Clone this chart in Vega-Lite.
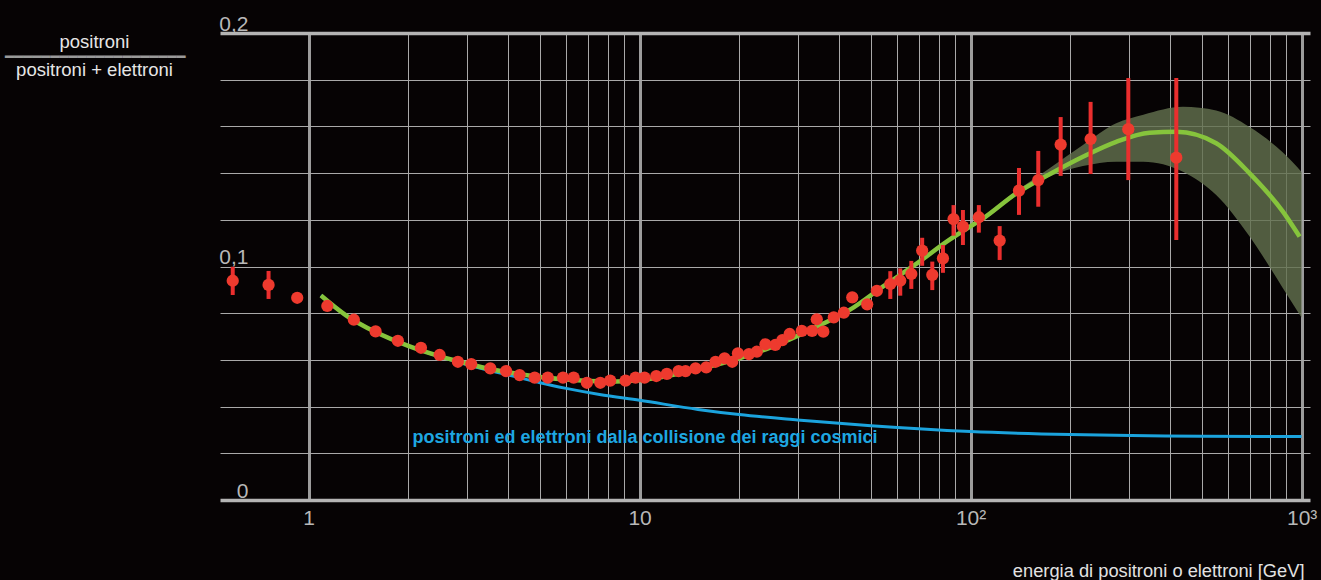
{
  "$schema": "https://vega.github.io/schema/vega-lite/v6.json",
  "width": 1090,
  "height": 467,
  "autosize": "none",
  "padding": {"left": 220, "top": 33, "right": 11, "bottom": 80},
  "background": "#060304",
  "config": {"view": {"stroke": null}, "font": "Liberation Sans"},
  "title": {"text": "━━━━━━━━━━━━━━━━━━━━", "font": "DejaVu Sans Mono", "fontSize": 15, "color": "#9a9a9a", "anchor": "start", "frame": "group", "dx": -215, "dy": 59, "baseline": "middle", "offset": 0, "fontWeight": "normal"},
  "datasets": {
    "points": [
      {"E": 0.590, "v": 0.0939, "lo": 0.0878, "hi": 0.0999},
      {"E": 0.757, "v": 0.0921, "lo": 0.0861, "hi": 0.0981},
      {"E": 0.924, "v": 0.0866},
      {"E": 1.139, "v": 0.0831},
      {"E": 1.37, "v": 0.0772},
      {"E": 1.594, "v": 0.0722},
      {"E": 1.861, "v": 0.0682},
      {"E": 2.185, "v": 0.0652},
      {"E": 2.488, "v": 0.0621},
      {"E": 2.825, "v": 0.0592},
      {"E": 3.10, "v": 0.0582},
      {"E": 3.54, "v": 0.0564},
      {"E": 3.95, "v": 0.0552},
      {"E": 4.34, "v": 0.0535},
      {"E": 4.82, "v": 0.0524},
      {"E": 5.28, "v": 0.0524},
      {"E": 5.87, "v": 0.0524},
      {"E": 6.32, "v": 0.0524},
      {"E": 6.93, "v": 0.0502},
      {"E": 7.61, "v": 0.0502},
      {"E": 8.15, "v": 0.0511},
      {"E": 9.07, "v": 0.0511},
      {"E": 9.72, "v": 0.0524},
      {"E": 10.35, "v": 0.0524},
      {"E": 11.23, "v": 0.0531},
      {"E": 12.09, "v": 0.0540},
      {"E": 13.12, "v": 0.0552},
      {"E": 13.77, "v": 0.0552},
      {"E": 14.76, "v": 0.0564},
      {"E": 15.90, "v": 0.0568},
      {"E": 16.96, "v": 0.0592},
      {"E": 18.06, "v": 0.0607},
      {"E": 19.05, "v": 0.0592},
      {"E": 19.82, "v": 0.0628},
      {"E": 21.4, "v": 0.0625},
      {"E": 22.6, "v": 0.0635},
      {"E": 24.0, "v": 0.0667},
      {"E": 25.7, "v": 0.0664},
      {"E": 27.0, "v": 0.0685},
      {"E": 28.4, "v": 0.0711},
      {"E": 30.9, "v": 0.0724},
      {"E": 33.2, "v": 0.0724},
      {"E": 34.3, "v": 0.0774},
      {"E": 35.9, "v": 0.0721},
      {"E": 38.6, "v": 0.0782},
      {"E": 41.4, "v": 0.0802},
      {"E": 43.9, "v": 0.0868},
      {"E": 48.7, "v": 0.0838},
      {"E": 52.1, "v": 0.0896},
      {"E": 57.2, "v": 0.0925, "lo": 0.0861, "hi": 0.0980},
      {"E": 61.3, "v": 0.0939, "lo": 0.0875, "hi": 0.0992},
      {"E": 66.2, "v": 0.0968, "lo": 0.0904, "hi": 0.1024},
      {"E": 71.4, "v": 0.1068, "lo": 0.1003, "hi": 0.1123},
      {"E": 76.6, "v": 0.0964, "lo": 0.0899, "hi": 0.1021},
      {"E": 82.5, "v": 0.1035, "lo": 0.0973, "hi": 0.1092},
      {"E": 88.8, "v": 0.1203, "lo": 0.1132, "hi": 0.1263},
      {"E": 94.8, "v": 0.1171, "lo": 0.1092, "hi": 0.1242},
      {"E": 105.9, "v": 0.1211, "lo": 0.1145, "hi": 0.1263},
      {"E": 122.4, "v": 0.1111, "lo": 0.1028, "hi": 0.1173},
      {"E": 140, "v": 0.1325, "lo": 0.1221, "hi": 0.1422},
      {"E": 160.1, "v": 0.1370, "lo": 0.1256, "hi": 0.1495},
      {"E": 187.1, "v": 0.1522, "lo": 0.1388, "hi": 0.1640},
      {"E": 230.4, "v": 0.1546, "lo": 0.1396, "hi": 0.1705},
      {"E": 299.5, "v": 0.1588, "lo": 0.1370, "hi": 0.1807},
      {"E": 418.2, "v": 0.1466, "lo": 0.1113, "hi": 0.1807}
    ],
    "fit": [
      {"E": 1.09, "v": 0.0876},
      {"E": 1.3, "v": 0.0790},
      {"E": 1.6, "v": 0.0718},
      {"E": 2.0, "v": 0.0660},
      {"E": 2.5, "v": 0.0615},
      {"E": 3.0, "v": 0.0585},
      {"E": 3.5, "v": 0.0562},
      {"E": 4.0, "v": 0.0547},
      {"E": 5.0, "v": 0.0527},
      {"E": 6.0, "v": 0.0516},
      {"E": 7.0, "v": 0.0510},
      {"E": 8.0, "v": 0.0508},
      {"E": 9.0, "v": 0.0509},
      {"E": 10, "v": 0.0513},
      {"E": 12, "v": 0.0530},
      {"E": 15, "v": 0.0560},
      {"E": 20, "v": 0.0607},
      {"E": 25, "v": 0.0655},
      {"E": 30, "v": 0.0703},
      {"E": 35, "v": 0.0748},
      {"E": 43.1, "v": 0.0814},
      {"E": 54.3, "v": 0.0914},
      {"E": 68.5, "v": 0.1011},
      {"E": 86.4, "v": 0.1115},
      {"E": 99.3, "v": 0.1170},
      {"E": 108.9, "v": 0.1205},
      {"E": 137.4, "v": 0.1313},
      {"E": 173.2, "v": 0.1395},
      {"E": 218.4, "v": 0.1470},
      {"E": 275.3, "v": 0.1534},
      {"E": 347.4, "v": 0.1573},
      {"E": 418.2, "v": 0.1577},
      {"E": 552, "v": 0.1528},
      {"E": 696.6, "v": 0.1399},
      {"E": 878, "v": 0.1235},
      {"E": 986, "v": 0.1128}
    ],
    "bkg": [
      {"E": 1.09, "v": 0.0876},
      {"E": 1.3, "v": 0.0790},
      {"E": 1.6, "v": 0.0718},
      {"E": 2.0, "v": 0.0660},
      {"E": 2.5, "v": 0.0613},
      {"E": 3.0, "v": 0.0580},
      {"E": 3.5, "v": 0.0555},
      {"E": 4.3, "v": 0.0525},
      {"E": 5.0, "v": 0.0502},
      {"E": 6.0, "v": 0.0478},
      {"E": 7.57, "v": 0.0452},
      {"E": 10, "v": 0.0427},
      {"E": 15, "v": 0.0388},
      {"E": 20, "v": 0.0366},
      {"E": 30, "v": 0.0343},
      {"E": 50, "v": 0.0318},
      {"E": 100, "v": 0.0293},
      {"E": 200, "v": 0.0280},
      {"E": 500, "v": 0.0273},
      {"E": 1000, "v": 0.0272}
    ],
    "band": [
      {"E": 110, "lo": 0.1197, "hi": 0.1213},
      {"E": 137.4, "lo": 0.1303, "hi": 0.1323},
      {"E": 173.2, "lo": 0.1385, "hi": 0.1421},
      {"E": 218.4, "lo": 0.1430, "hi": 0.1520},
      {"E": 275.3, "lo": 0.1449, "hi": 0.1613},
      {"E": 332.5, "lo": 0.1449, "hi": 0.1650},
      {"E": 438, "lo": 0.1406, "hi": 0.1684},
      {"E": 552, "lo": 0.1306, "hi": 0.1668},
      {"E": 696.6, "lo": 0.1128, "hi": 0.1597},
      {"E": 878, "lo": 0.0907, "hi": 0.1488},
      {"E": 1000, "lo": 0.0780, "hi": 0.1405}
    ],
    "label": [
      {"E": 2.06, "v": 0.0266, "text": "positroni ed elettroni dalla collisione dei raggi cosmici"}
    ]
  },
  "encoding": {
    "x": {
      "field": "E", "type": "quantitative",
      "scale": {"type": "log", "domain": [0.54, 1060], "nice": false},
      "axis": {
        "title": "energia di positroni o elettroni [GeV]",
        "values": [1,2,3,4,5,6,7,8,9,10,20,30,40,50,60,70,80,90,100,200,300,400,500,600,700,800,900,1000],
        "labelExpr": "datum.value == 1 ? '1' : datum.value == 10 ? '10' : datum.value == 100 ? '10²' : datum.value == 1000 ? '10³' : ''",
        "domain": false, "ticks": false,
        "grid": true,
        "gridColor": {"condition": {"test": "datum.value == 1 || datum.value == 10 || datum.value == 100 || datum.value == 1000", "value": "#9c9c9c"}, "value": "#a9a9a9"},
        "gridWidth": {"condition": {"test": "datum.value == 1 || datum.value == 10 || datum.value == 100 || datum.value == 1000", "value": 3}, "value": 1},
        "labelFont": "Liberation Sans", "labelFontSize": 21, "labelColor": "#b8b8b8", "labelPadding": 7,
        "labelOverlap": false, "labelFlush": false,
        "titleFont": "Liberation Sans", "titleFontSize": 18.3, "titleFontWeight": "normal", "titleColor": "#e2e2e2",
        "titleAnchor": "end", "titleAlign": "right", "titleBaseline": "alphabetic", "titleX": 1084, "titleY": 76
      }
    }
  },
  "layer": [
    {
      "data": {"name": "band"},
      "mark": {"type": "area", "interpolate": "monotone", "color": "#62704e", "opacity": 0.82},
      "encoding": {
        "y": {"field": "lo", "type": "quantitative", "title": ["positroni", "positroni + elettroni"],
          "scale": {"domain": [0, 0.2], "nice": false, "zero": false},
          "axis": {
            "values": [0, 0.02, 0.04, 0.06, 0.08, 0.1, 0.12, 0.14, 0.16, 0.18, 0.2],
            "labelExpr": "datum.value < 0.001 ? '0' : (abs(datum.value - 0.1) < 0.001 ? '0,1' : (abs(datum.value - 0.2) < 0.001 ? '0,2' : ''))",
            "domain": false, "ticks": false, "grid": true,
            "gridColor": {"condition": {"test": "datum.value < 0.001 || datum.value > 0.199", "value": "#b4b4b4"}, "value": "#a9a9a9"},
            "gridWidth": {"condition": {"test": "datum.value < 0.001 || datum.value > 0.199", "value": 3.5}, "value": 1},
            "labelFont": "Liberation Sans", "labelFontSize": 21, "labelColor": "#b8b8b8",
            "labelAlign": "right", "labelBaseline": "alphabetic", "labelPadding": -28, "labelOffset": -3,
            "labelOverlap": false, "labelFlush": false,
            "titleAngle": 0, "titleAlign": "center", "titleBaseline": "alphabetic",
            "titleX": -126, "titleY": 14, "titleLineHeight": 28,
            "titleFont": "Liberation Sans", "titleFontSize": 18.5, "titleFontWeight": "normal", "titleColor": "#e6e6e6"
          }
        },
        "y2": {"field": "hi"}
      }
    },
    {
      "data": {"name": "bkg"},
      "mark": {"type": "line", "interpolate": "monotone", "color": "#1ba3dd", "strokeWidth": 3},
      "encoding": {"y": {"field": "v", "type": "quantitative", "title": ["positroni", "positroni + elettroni"]}}
    },
    {
      "data": {"name": "fit"},
      "mark": {"type": "line", "interpolate": "monotone", "color": "#86c43c", "strokeWidth": 4.5},
      "encoding": {"y": {"field": "v", "type": "quantitative", "title": ["positroni", "positroni + elettroni"]}}
    },
    {
      "data": {"name": "points"},
      "transform": [{"filter": "isValid(datum.lo)"}],
      "mark": {"type": "rule", "color": "#ea2e2e", "strokeWidth": 4},
      "encoding": {
        "y": {"field": "lo", "type": "quantitative", "title": ["positroni", "positroni + elettroni"]},
        "y2": {"field": "hi"}
      }
    },
    {
      "data": {"name": "points"},
      "mark": {"type": "circle", "color": "#ee3a2e", "size": 150, "opacity": 1},
      "encoding": {"y": {"field": "v", "type": "quantitative", "title": ["positroni", "positroni + elettroni"]}}
    },
    {
      "data": {"name": "label"},
      "mark": {"type": "text", "align": "left", "baseline": "middle", "font": "Liberation Sans", "fontWeight": "bold", "fontSize": 18, "color": "#1ea7e1"},
      "encoding": {
        "y": {"field": "v", "type": "quantitative", "title": ["positroni", "positroni + elettroni"]},
        "text": {"field": "text"}
      }
    }
  ]
}
